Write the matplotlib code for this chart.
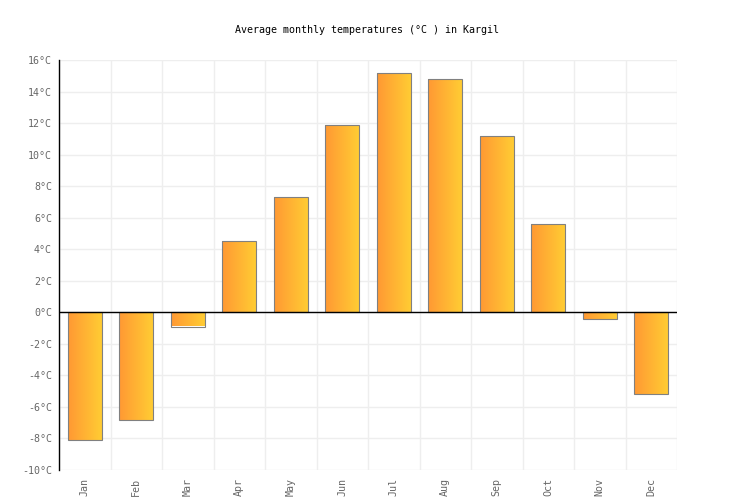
import numpy as np
import matplotlib
matplotlib.use("Agg")
import matplotlib.pyplot as plt
from matplotlib.colors import LinearSegmentedColormap

months = ["Jan", "Feb", "Mar", "Apr", "May", "Jun", "Jul", "Aug", "Sep", "Oct", "Nov", "Dec"]
temps = [-8.1, -6.8, -0.9, 4.5, 7.3, 11.9, 15.2, 14.8, 11.2, 5.6, -0.4, -5.2]
yticks = list(range(-10, 17, 2))
ytick_labels = [f"{v}°C" for v in yticks]
title = "Average monthly temperatures (°C ) in Kargil"

plt.rcParams['font.family'] = ['DejaVu Sans Mono']
fs = 7.2

fig = plt.figure(figsize=(7.36, 5.0), dpi=100)
ax = fig.add_axes([59/736, 30/500, 618/736, 410/500])

x = np.arange(len(months))
ax.set_xlim(-0.5, len(months) - 0.5)
ax.set_ylim(-10, 16)

cmap = LinearSegmentedColormap.from_list("g", ["#ff9933", "#ffcc33"])
grad = np.linspace(0, 1, 64).reshape(1, -1)
width = 0.66
bars = ax.bar(x, temps, width=width, color="none", edgecolor="#808080", linewidth=0.8, zorder=3)
for b in bars:
    x0 = b.get_x()
    y0 = b.get_y()
    h = b.get_height()
    im = ax.imshow(grad, cmap=cmap, aspect="auto",
                   extent=[x0, x0 + b.get_width(), min(y0, y0 + h), max(y0, y0 + h)],
                   zorder=2, interpolation="bilinear")
    im.set_clip_path(b)
ax.set_xlim(-0.5, len(months) - 0.5)
ax.set_ylim(-10, 16)

# grid
for v in yticks:
    ax.axhline(v, color="#eeeeee", linewidth=1, zorder=0)
for k in range(len(months) + 1):
    ax.axvline(k - 0.5, color="#eeeeee", linewidth=1, zorder=0)
ax.axhline(0, color="black", linewidth=1, zorder=4)

for s in ["top", "right", "bottom"]:
    ax.spines[s].set_visible(False)
ax.spines["left"].set_color("black")
ax.spines["left"].set_linewidth(1)

ax.set_yticks(yticks)
ax.set_yticklabels(ytick_labels, fontsize=fs, color="#666666")
ax.set_xticks(x)
ax.set_xticklabels(months, rotation=90, fontsize=fs, color="#666666")
ax.tick_params(axis="both", length=0, pad=6)
ax.tick_params(axis="y", pad=5)

fig.text(367/736, 1 - 30/500, title, ha="center", va="center", fontsize=fs, color="black")

fig.savefig("out.png", dpi=100)
